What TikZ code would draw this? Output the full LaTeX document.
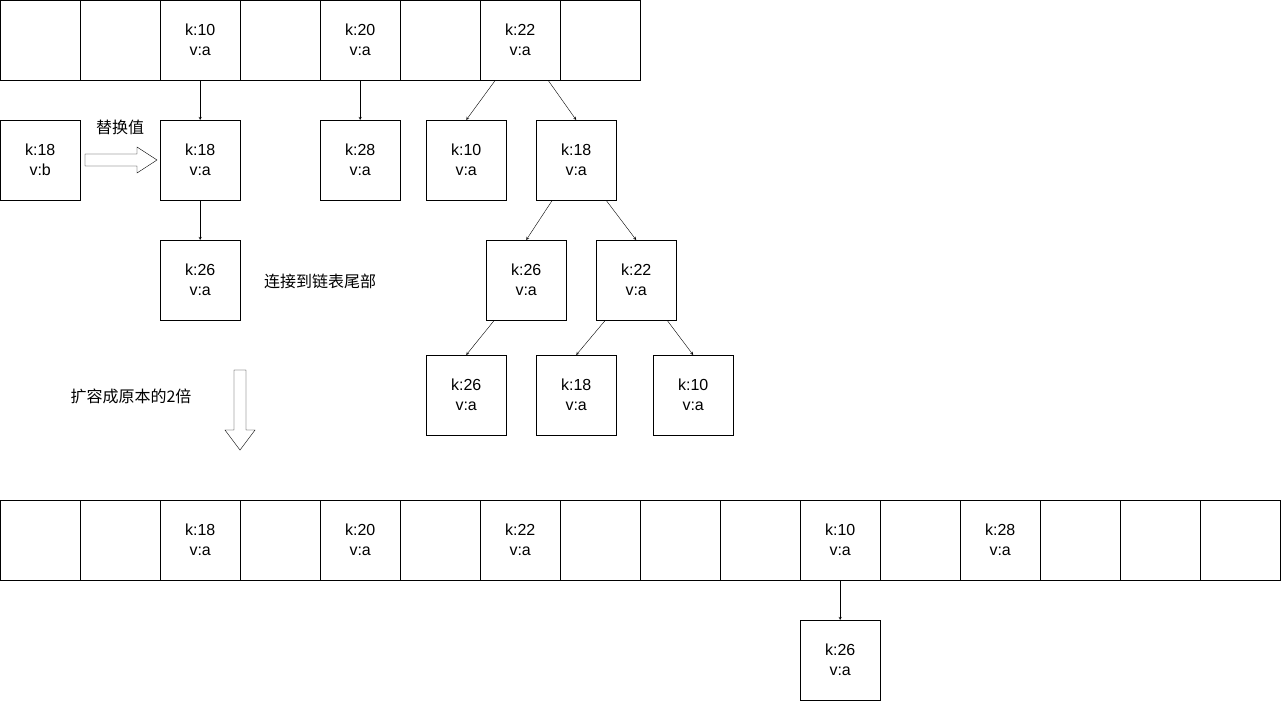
\documentclass[tikz,border=0pt]{standalone}
\usepackage{fontspec}
\setmainfont{Liberation Sans}
\newfontfamily\cjk{Noto Sans CJK SC}
\usetikzlibrary{positioning}
\begin{document}
\begin{tikzpicture}[x=1pt, y=-1pt, >=stealth,
  every node/.style={font=\fontsize{16}{20}\selectfont},
  cell/.style={draw, minimum size=80pt, inner sep=0pt, align=center, anchor=north west},
  kv/.style={cell}]
  \useasboundingbox (0,0) rectangle (1281,701);

  % old table
  \foreach \i/\t in {0/,1/,2/{k:10\\v:a},3/,4/{k:20\\v:a},5/,6/{k:22\\v:a},7/}
    \node[cell] (old\i) at (\i*80,0) {\t};

  \node[kv] (b18) at (0,120) {k:18\\v:b};
  \node[kv] (a18) at (160,120) {k:18\\v:a};
  \node[kv] (a26) at (160,240) {k:26\\v:a};
  \node[kv] (a28) at (320,120) {k:28\\v:a};
  \node[kv] (t10) at (426,120) {k:10\\v:a};
  \node[kv] (t18) at (536,120) {k:18\\v:a};
  \node[kv] (t26) at (486,240) {k:26\\v:a};
  \node[kv] (t22) at (596,240) {k:22\\v:a};
  \node[kv] (l26) at (426,355) {k:26\\v:a};
  \node[kv] (l18) at (536,355) {k:18\\v:a};
  \node[kv] (l10) at (653,355) {k:10\\v:a};

  \draw[->] (old2) -- (a18);
  \draw[->] (a18) -- (a26);
  \draw[->] (old4) -- (a28);
  \draw[->] ([xshift=-25pt]old6.south) -- ([xshift=0pt]t10.north);
  \draw[->] ([xshift=28pt]old6.south) -- (t18.north);
  \draw[->] ([xshift=-24pt]t18.south) -- (t26.north);
  \draw[->] ([xshift=30pt]t18.south) -- (t22.north);
  \draw[->] ([xshift=-32pt]t26.south) -- (l26.north);
  \draw[->] ([xshift=-31pt]t22.south) -- (l18.north);
  \draw[->] ([xshift=31pt]t22.south) -- (l10.north);

  % labels and block arrows
  \node (lbl1) at (120,127) {\cjk 替换值};
  \node (lbl2) at (320,281) {\cjk 连接到链表尾部};
  \node (lbl3) at (131,396) {\cjk 扩容成原本的2倍};
  \draw (85,154) -- (137,154) -- (137,147) -- (157,160) -- (137,173) -- (137,166) -- (85,166) -- cycle;
  \draw (234,370) -- (246,370) -- (246,430) -- (255,430) -- (240,450) -- (225,430) -- (234,430) -- cycle;

  % new table
  \foreach \i/\t in {0/,1/,2/{k:18\\v:a},3/,4/{k:20\\v:a},5/,6/{k:22\\v:a},7/,8/,9/,10/{k:10\\v:a},11/,12/{k:28\\v:a},13/,14/,15/}
    \node[cell] (new\i) at (\i*80,500) {\t};
  \node[kv] (n26) at (800,620) {k:26\\v:a};
  \draw[->] (new10) -- (n26);
\end{tikzpicture}
\end{document}
